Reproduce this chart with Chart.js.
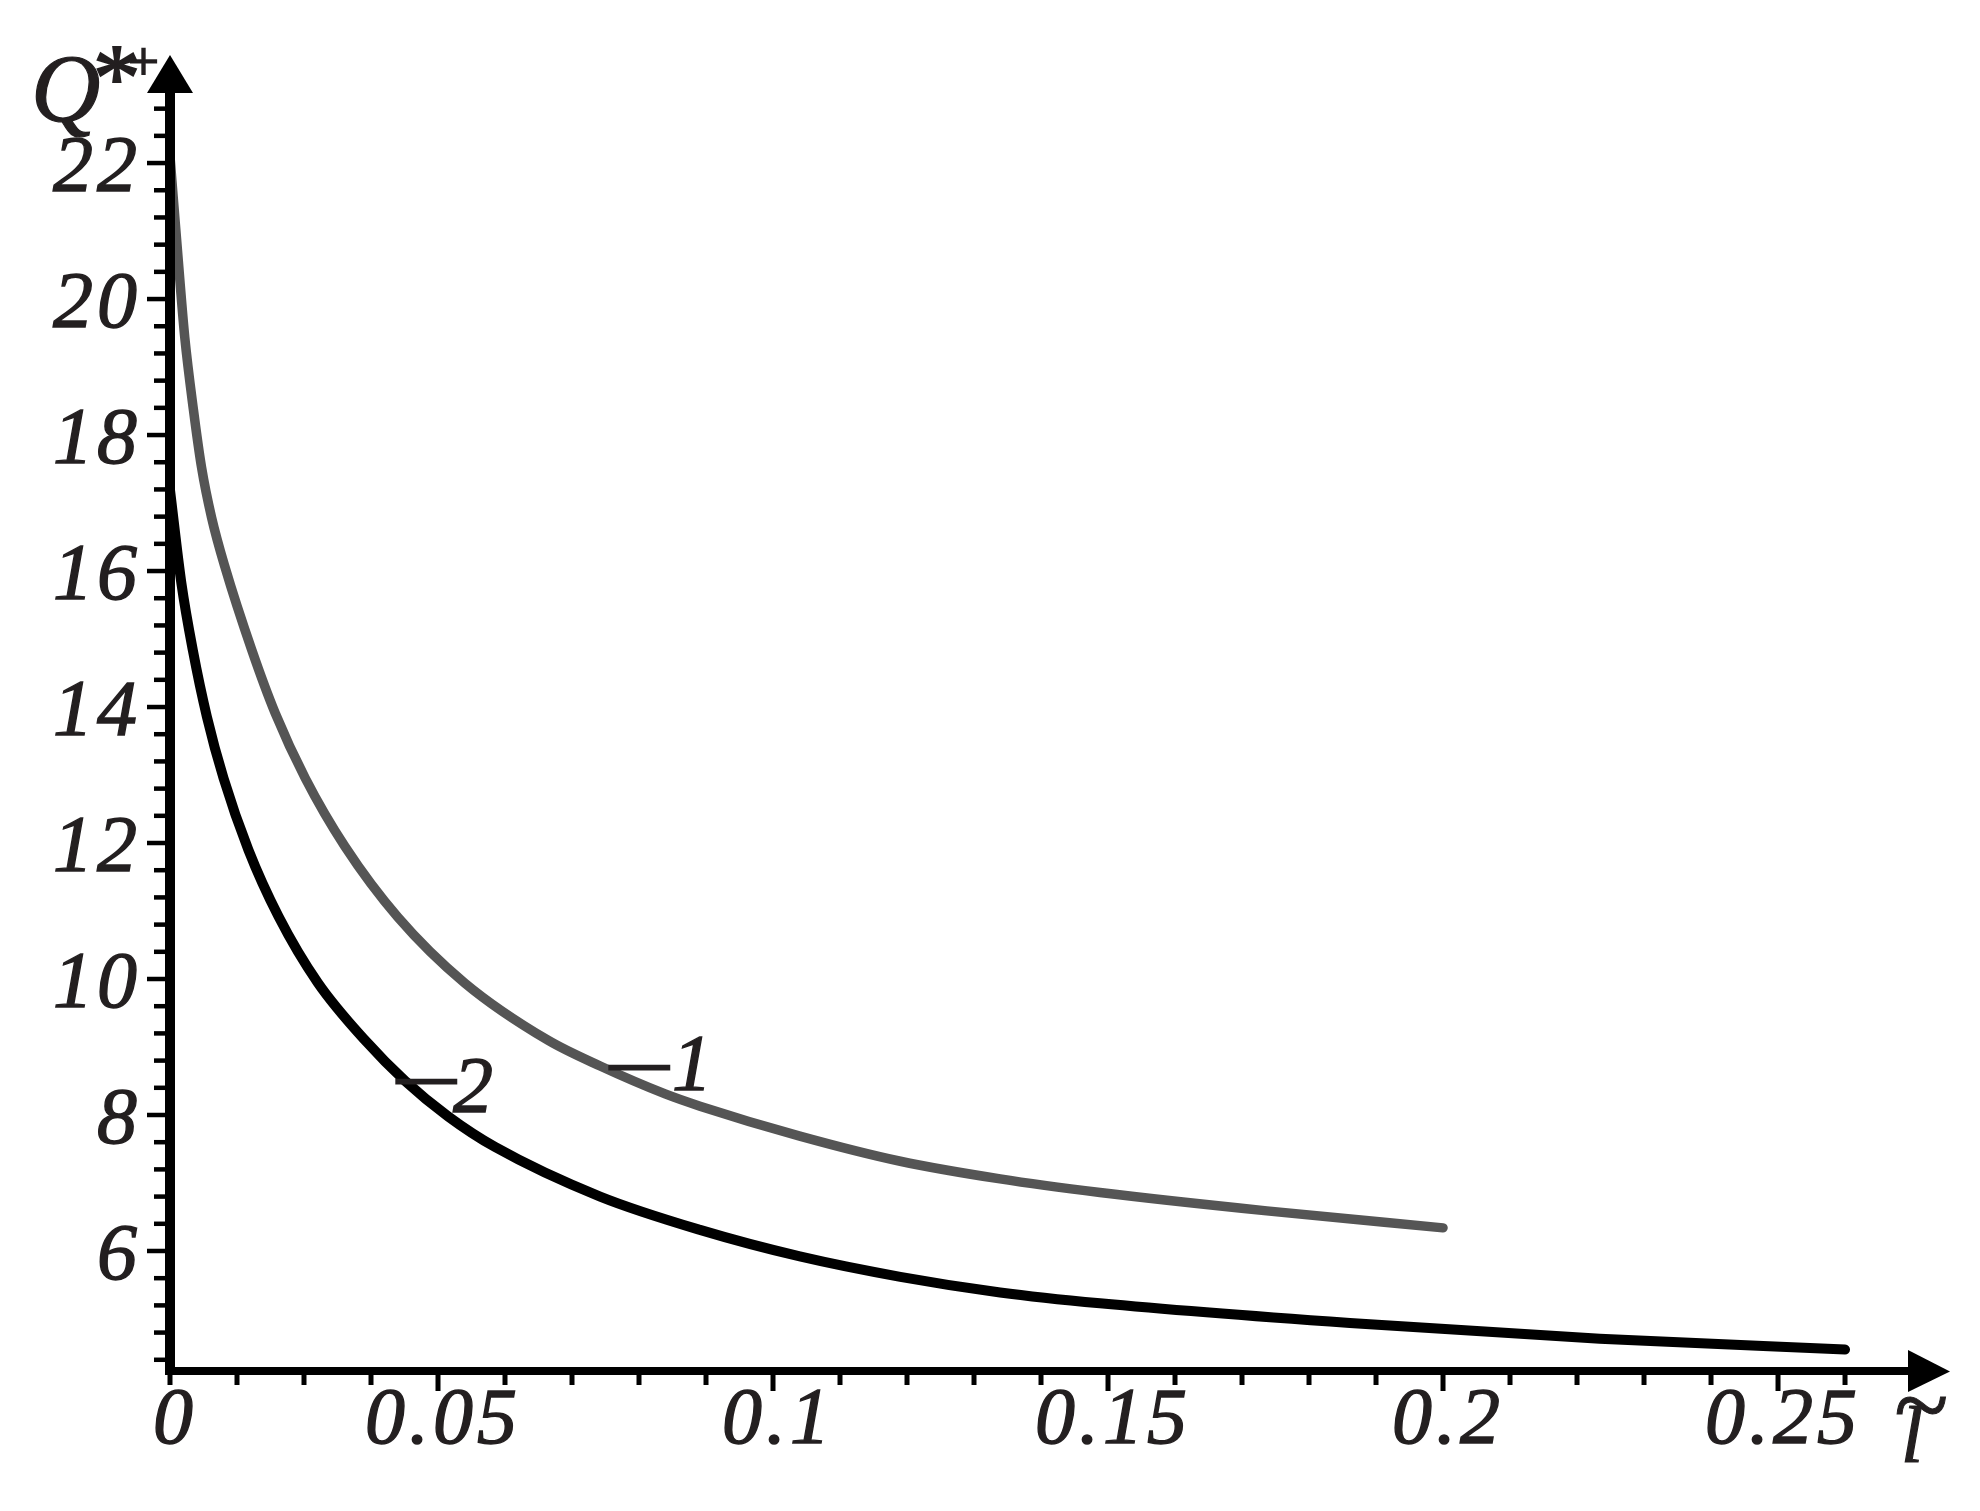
<!DOCTYPE html>
<html>
<head>
<meta charset="utf-8">
<script src="https://cdn.jsdelivr.net/npm/chart.js@4.4.1/dist/chart.umd.min.js"></script>
<style>
html,body{margin:0;padding:0;background:#ffffff;overflow:hidden;}
canvas{display:block;}
#warm{position:absolute;left:-10000px;top:0;font-family:"Liberation Serif";font-size:80px;white-space:nowrap;}
</style>
</head>
<body>
<canvas id="c" width="1980" height="1511"></canvas>
<div id="warm" aria-hidden="true"><i>Q 0.05 l~ —2</i> <span>*+</span></div>
<script>
// ---------------- data ----------------
const curve1X = [0.0100, 0.0103, 0.0115, 0.0122, 0.0135, 0.0147, 0.0162, 0.0182, 0.0222, 0.0257, 0.0302, 0.0361, 0.0440, 0.0540, 0.0664, 0.0742, 0.0839, 0.0891, 0.1040, 0.1190, 0.1339, 0.1488, 0.1737, 0.2000];
const curve1Y = [22.10, 21.72, 20.24, 19.44, 18.37, 17.53, 16.79, 16.06, 14.84, 13.91, 12.95, 11.95, 10.91, 9.94, 9.10, 8.72, 8.31, 8.13, 7.69, 7.32, 7.06, 6.86, 6.59, 6.34];

const curve2X = [0.0100, 0.0117, 0.0134, 0.0155, 0.0180, 0.0217, 0.0262, 0.0321, 0.0391, 0.0451, 0.0515, 0.0585, 0.0742, 0.0891, 0.1040, 0.1190, 0.1339, 0.1488, 0.1861, 0.2234, 0.2600];
const curve2Y = [17.19, 15.82, 14.84, 13.86, 12.95, 11.90, 10.92, 9.94, 9.10, 8.50, 7.98, 7.53, 6.80, 6.31, 5.92, 5.62, 5.39, 5.23, 4.94, 4.71, 4.55];

const seriesNames = ['1', '2'];
const seriesColors = ['#555555', '#000000'];

const xTickValues = [0.01, 0.05, 0.10, 0.15, 0.20, 0.25];
const xTickLabels = ['0', '0.05', '0.1', '0.15', '0.2', '0.25'];
const yTickValues = [6, 8, 10, 12, 14, 16, 18, 20, 22];
const yTickLabels = ['6', '8', '10', '12', '14', '16', '18', '20', '22'];

const xRange = [0.01, 0.2694];
const yRange = [4.235, 23.045];

// curve label anchors (data coordinates of the start of the dash)
const curveLabelX = [0.0757, 0.0439];
const curveLabelY = [8.37, 8.04];

const yAxisTitle = 'Q';
const yAxisTitleSup = ['*', '+'];
const xAxisTitle = 'l';
const xAxisTitleAccent = '~';

// ---------------- drawing ----------------
const FONT = '"MapleSerif", "Liberation Serif", "Times New Roman", serif';
const TEXT = '#231f20';

function heavyText(ctx, s, x, y, w) {
  ctx.fillText(s, x, y);
  ctx.lineWidth = w;
  ctx.strokeText(s, x, y);
}

const maplePlugin = {
  id: 'mapleAxes',
  afterDatasetsDraw(chart) {
    const ctx = chart.ctx;
    const xs = chart.scales.x, ys = chart.scales.y, ca = chart.chartArea;
    const x0 = xs.getPixelForValue(xs.min);
    const y0 = ys.getPixelForValue(ys.min);
    ctx.save();
    ctx.fillStyle = '#000';
    // axis lines
    ctx.fillRect(x0 - 5, ca.top, 10, y0 + 4 - ca.top);
    ctx.fillRect(x0 - 5, y0 - 4, ca.right - (x0 - 5), 8);
    // arrow heads
    ctx.beginPath();
    ctx.moveTo(x0 - 23, ca.top + 1);
    ctx.lineTo(x0 + 23, ca.top + 1);
    ctx.lineTo(x0, ca.top - 37);
    ctx.closePath();
    ctx.fill();
    ctx.beginPath();
    ctx.moveTo(ca.right, y0 - 21);
    ctx.lineTo(ca.right, y0 + 21);
    ctx.lineTo(ca.right + 42, y0 + 0.5);
    ctx.closePath();
    ctx.fill();
    // y ticks (minor every 0.4, major every 2)
    for (let i = 11; i <= 57; i++) {
      const py = ys.getPixelForValue(i * 0.4);
      const len = (i % 5 === 0) ? 18 : 11;
      ctx.fillRect(x0 - 5 - len, py - 2.25, len, 4.5);
    }
    // x ticks (minor every 0.01, major every 0.05)
    for (let i = 1; i <= 26; i++) {
      const px = xs.getPixelForValue(i / 100);
      const len = (i % 5 === 0) ? 16 : 10;
      ctx.fillRect(px - 2.5, y0 + 4, 5, len);
    }
    // tick labels
    ctx.fillStyle = TEXT;
    ctx.strokeStyle = TEXT;
    ctx.font = 'italic 80px ' + FONT;
    ctx.textBaseline = 'alphabetic';
    ctx.letterSpacing = '4px';
    ctx.textAlign = 'center';
    xTickValues.forEach((v, i) => {
      heavyText(ctx, xTickLabels[i], xs.getPixelForValue(v) + 5, y0 + 72, 1.4);
    });
    ctx.textAlign = 'right';
    yTickValues.forEach((v, i) => {
      heavyText(ctx, yTickLabels[i], x0 - 29, ys.getPixelForValue(v) + 28, 1.4);
    });
    ctx.letterSpacing = '0px';
    // y axis title Q*+
    ctx.textAlign = 'left';
    ctx.font = 'italic 96px ' + FONT;
    heavyText(ctx, yAxisTitle, x0 - 139, ca.top + 29, 1.2);
    ctx.font = '95px ' + FONT;
    heavyText(ctx, yAxisTitleSup[0], x0 - 77, ca.top + 17, 2);
    ctx.font = '55px ' + FONT;
    heavyText(ctx, yAxisTitleSup[1], x0 - 42, ca.top - 12, 1.6);
    // x axis title l with tilde
    ctx.textAlign = 'center';
    ctx.font = 'italic 80px ' + FONT;
    heavyText(ctx, xAxisTitle, ca.right + 4, y0 + 91, 1.2);
    ctx.font = 'italic 100px ' + FONT;
    heavyText(ctx, xAxisTitleAccent, ca.right + 12, y0 + 68, 1);
    // curve labels
    ctx.textAlign = 'left';
    const dashRise = [5.5, 14.5];
    const digitShift = [62, 56];
    curveLabelX.forEach((v, i) => {
      const px = xs.getPixelForValue(v);
      const py = ys.getPixelForValue(curveLabelY[i]);
      ctx.font = 'italic 66px ' + FONT;
      heavyText(ctx, '\u2014', px, py - dashRise[i], 2.5);
      ctx.font = 'italic 80px ' + FONT;
      heavyText(ctx, seriesNames[i], px + digitShift[i], py, 1.4);
    });
    ctx.restore();
  }
};

const toPoints = (xs, ys) => xs.map((x, i) => ({ x: x, y: ys[i] }));

let made = false;
function makeChart() {
  if (made) return;
  made = true;
  new Chart(document.getElementById('c'), {
    type: 'line',
    data: {
      datasets: [
        {
          label: seriesNames[0],
          data: toPoints(curve1X, curve1Y),
          borderColor: seriesColors[0],
          borderWidth: 9.5,
          pointRadius: 0,
          fill: false,
          cubicInterpolationMode: 'monotone',
          borderCapStyle: 'round',
          borderJoinStyle: 'round'
        },
        {
          label: seriesNames[1],
          data: toPoints(curve2X, curve2Y),
          borderColor: seriesColors[1],
          borderWidth: 10,
          pointRadius: 0,
          fill: false,
          cubicInterpolationMode: 'monotone',
          borderCapStyle: 'round',
          borderJoinStyle: 'round'
        }
      ]
    },
    options: {
      responsive: false,
      animation: false,
      devicePixelRatio: 1,
      layout: { padding: { left: 170, right: 72, top: 92, bottom: 140 } },
      plugins: { legend: { display: false }, tooltip: { enabled: false } },
      scales: {
        x: { type: 'linear', min: xRange[0], max: xRange[1], display: false },
        y: { type: 'linear', min: yRange[0], max: yRange[1], display: false }
      }
    },
    plugins: [maplePlugin]
  });
}

const faces = [
  new FontFace('MapleSerif', 'local("Liberation Serif Italic"), local("LiberationSerif-Italic")', { style: 'italic' }),
  new FontFace('MapleSerif', 'local("Liberation Serif"), local("LiberationSerif")', { style: 'normal' })
];
const loads = faces.map(f => f.load().then(ff => { document.fonts.add(ff); }, () => {}));
Promise.all(loads)
  .then(() => document.fonts.ready)
  .then(() => new Promise(r => requestAnimationFrame(() => setTimeout(r, 30))))
  .then(makeChart, makeChart);
setTimeout(makeChart, 1500);
</script>
</body>
</html>
